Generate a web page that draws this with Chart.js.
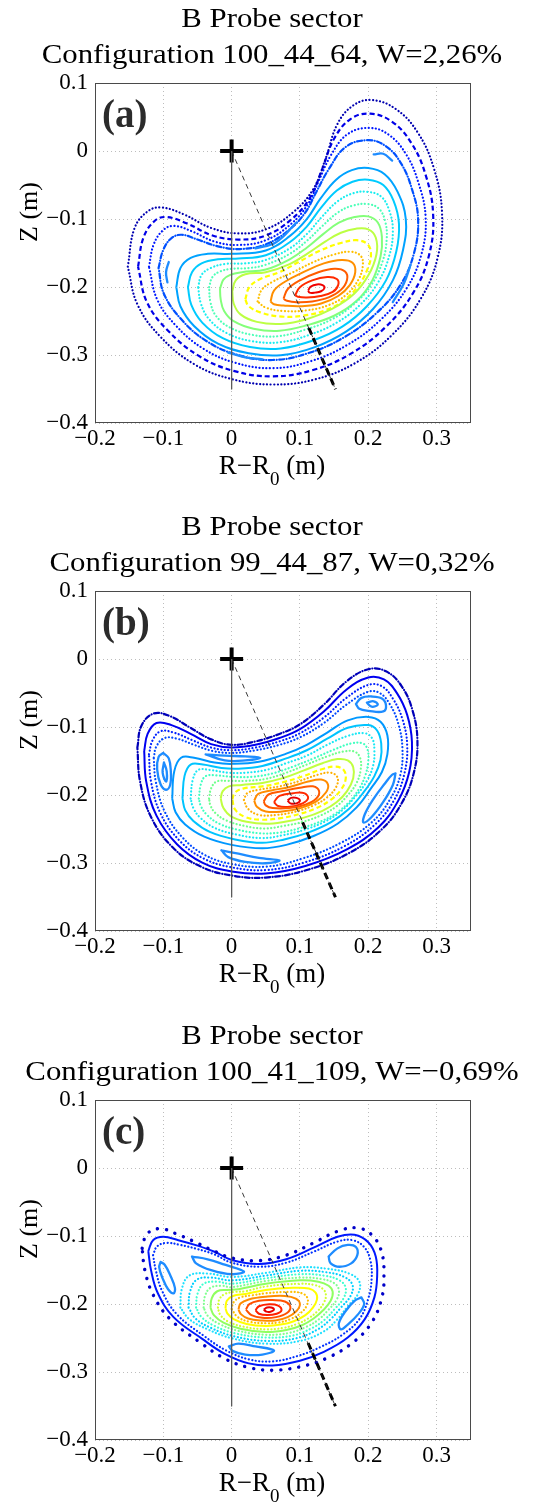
<!DOCTYPE html>
<html>
<head>
<meta charset="utf-8">
<script src="https://cdn.jsdelivr.net/npm/chart.js@4.4.1/dist/chart.umd.min.js"></script>
<style>
  html, body { margin: 0; padding: 0; background: #fff; overflow: hidden; }
  .panel { position: absolute; left: 0; width: 542px; height: 500px; }
</style>
</head>
<body>
<div class="panel" style="top:0px"><canvas id="ca" width="542" height="500"></canvas></div>
<div class="panel" style="top:508px"><canvas id="cb" width="542" height="500"></canvas></div>
<div class="panel" style="top:1017px"><canvas id="cc" width="542" height="500"></canvas></div>
<script>
// axis ticks
const xTicks = [-0.2, -0.1, 0, 0.1, 0.2, 0.3]
const xTickLabels = ['\u22120.2', '\u22120.1', '0', '0.1', '0.2', '0.3']
const yTicks = [-0.4, -0.3, -0.2, -0.1, 0, 0.1]
const yTickLabels = ['\u22120.4', '\u22120.3', '\u22120.2', '\u22120.1', '0', '0.1']

const titleTop = 'B Probe sector'
const configNames = [
  'Configuration 100_44_64, W=2,26%',
  'Configuration 99_44_87, W=0,32%',
  'Configuration 100_41_109, W=\u22120,69%'
]
const panelTags = ['(a)', '(b)', '(c)']

// probe line of sight (m)
const probeStem = [[0, 0], [0, -0.35]]
const probeChord = [[0, 0], [0.152, -0.35]]
const probeThickA = [[0.113, -0.26], [0.152, -0.35]]
const probeThickB = [[0.104, -0.24], [0.152, -0.35]]
const probeThickC = [[0.112, -0.257], [0.152, -0.35]]

// ---- (a) flux surfaces, outer to inner, [R-R0, Z] in m ----
const a1 = [[-0.152,-0.17],[-0.142,-0.113],[-0.122,-0.088],[-0.102,-0.083],[-0.07,-0.093],[-0.03,-0.113],[0.01,-0.121],[0.05,-0.115],[0.09,-0.09],[0.12,-0.055],[0.138,-0.01],[0.155,0.04],[0.178,0.067],[0.205,0.075],[0.24,0.062],[0.272,0.028],[0.296,-0.025],[0.308,-0.09],[0.302,-0.155],[0.278,-0.215],[0.235,-0.27],[0.18,-0.312],[0.12,-0.336],[0.06,-0.343],[0.0,-0.335],[-0.055,-0.313],[-0.105,-0.272],[-0.138,-0.225]]
const a2 = [[-0.137,-0.17],[-0.129,-0.127],[-0.112,-0.102],[-0.095,-0.097],[-0.066,-0.106],[-0.028,-0.124],[0.01,-0.13],[0.05,-0.124],[0.088,-0.1],[0.115,-0.068],[0.132,-0.028],[0.15,0.018],[0.174,0.047],[0.203,0.055],[0.235,0.043],[0.263,0.012],[0.284,-0.035],[0.295,-0.093],[0.289,-0.153],[0.266,-0.208],[0.226,-0.258],[0.174,-0.298],[0.118,-0.322],[0.06,-0.331],[0.003,-0.323],[-0.048,-0.301],[-0.093,-0.264],[-0.124,-0.222]]
const a3 = [[-0.121,-0.17],[-0.114,-0.137],[-0.1,-0.116],[-0.084,-0.11],[-0.058,-0.118],[-0.025,-0.133],[0.01,-0.138],[0.05,-0.131],[0.086,-0.108],[0.111,-0.079],[0.127,-0.045],[0.146,-0.005],[0.17,0.025],[0.202,0.034],[0.23,0.024],[0.255,-0.004],[0.273,-0.045],[0.284,-0.097],[0.278,-0.151],[0.256,-0.202],[0.218,-0.248],[0.169,-0.285],[0.115,-0.309],[0.06,-0.319],[0.005,-0.311],[-0.042,-0.29],[-0.082,-0.256],[-0.109,-0.218]]
const a4 = [[-0.107,-0.172],[-0.1,-0.145],[-0.088,-0.128],[-0.073,-0.123],[-0.05,-0.13],[-0.02,-0.14],[0.012,-0.144],[0.05,-0.137],[0.085,-0.115],[0.108,-0.09],[0.123,-0.062],[0.142,-0.027],[0.167,0.006],[0.2,0.016],[0.226,0.007],[0.248,-0.018],[0.264,-0.056],[0.273,-0.1],[0.267,-0.15],[0.247,-0.197],[0.211,-0.239],[0.164,-0.274],[0.112,-0.297],[0.06,-0.307],[0.007,-0.299],[-0.037,-0.279],[-0.073,-0.248],[-0.099,-0.21]]
const a5 = [[-0.081,-0.2],[-0.075,-0.172],[-0.06,-0.157],[-0.035,-0.151],[0.0,-0.151],[0.05,-0.146],[0.085,-0.125],[0.11,-0.1],[0.13,-0.07],[0.153,-0.042],[0.176,-0.028],[0.2,-0.025],[0.224,-0.034],[0.243,-0.06],[0.255,-0.1],[0.251,-0.145],[0.236,-0.19],[0.207,-0.232],[0.168,-0.265],[0.122,-0.288],[0.072,-0.3],[0.025,-0.297],[-0.02,-0.283],[-0.055,-0.257],[-0.075,-0.228]]
const a6 = [[-0.064,-0.2],[-0.058,-0.178],[-0.044,-0.165],[-0.02,-0.159],[0.01,-0.158],[0.05,-0.153],[0.085,-0.134],[0.11,-0.111],[0.131,-0.083],[0.154,-0.058],[0.177,-0.045],[0.2,-0.042],[0.222,-0.05],[0.237,-0.073],[0.245,-0.107],[0.241,-0.148],[0.226,-0.19],[0.198,-0.228],[0.162,-0.258],[0.12,-0.278],[0.072,-0.29],[0.027,-0.288],[-0.013,-0.275],[-0.043,-0.252],[-0.059,-0.226]]
const a7 = [[-0.049,-0.2],[-0.044,-0.182],[-0.031,-0.172],[-0.01,-0.166],[0.02,-0.165],[0.05,-0.16],[0.085,-0.143],[0.11,-0.122],[0.132,-0.097],[0.155,-0.074],[0.178,-0.062],[0.2,-0.06],[0.219,-0.067],[0.231,-0.088],[0.236,-0.117],[0.231,-0.153],[0.215,-0.192],[0.188,-0.226],[0.154,-0.252],[0.114,-0.27],[0.07,-0.281],[0.028,-0.279],[-0.008,-0.267],[-0.033,-0.247],[-0.045,-0.224]]
const a8 = [[-0.033,-0.2],[-0.028,-0.185],[-0.017,-0.177],[0.0,-0.173],[0.025,-0.172],[0.05,-0.167],[0.085,-0.151],[0.11,-0.132],[0.133,-0.11],[0.156,-0.09],[0.178,-0.08],[0.2,-0.078],[0.216,-0.085],[0.225,-0.104],[0.227,-0.13],[0.221,-0.162],[0.205,-0.196],[0.179,-0.225],[0.147,-0.247],[0.109,-0.262],[0.068,-0.272],[0.03,-0.27],[-0.003,-0.259],[-0.023,-0.242],[-0.031,-0.222]]
const a9 = [[-0.017,-0.202],[-0.012,-0.189],[-0.002,-0.182],[0.015,-0.178],[0.05,-0.174],[0.085,-0.159],[0.11,-0.142],[0.134,-0.122],[0.157,-0.105],[0.18,-0.097],[0.2,-0.096],[0.214,-0.105],[0.22,-0.126],[0.218,-0.155],[0.206,-0.19],[0.183,-0.22],[0.15,-0.242],[0.11,-0.256],[0.07,-0.264],[0.032,-0.261],[0.003,-0.25],[-0.011,-0.235],[-0.016,-0.218]]
const a10 = [[0.001,-0.206],[0.006,-0.19],[0.02,-0.181],[0.05,-0.178],[0.085,-0.166],[0.112,-0.15],[0.137,-0.133],[0.16,-0.12],[0.182,-0.114],[0.2,-0.115],[0.211,-0.127],[0.212,-0.152],[0.2,-0.183],[0.179,-0.21],[0.147,-0.232],[0.11,-0.247],[0.072,-0.254],[0.037,-0.251],[0.013,-0.24],[0.003,-0.224]]
const a11 = [[0.02,-0.218],[0.026,-0.2],[0.042,-0.188],[0.07,-0.178],[0.1,-0.162],[0.13,-0.146],[0.16,-0.135],[0.183,-0.131],[0.199,-0.137],[0.204,-0.152],[0.199,-0.173],[0.186,-0.197],[0.165,-0.219],[0.137,-0.234],[0.104,-0.242],[0.07,-0.243],[0.042,-0.237],[0.025,-0.228]]
const a12 = [[0.038,-0.221],[0.044,-0.204],[0.06,-0.192],[0.09,-0.178],[0.12,-0.163],[0.15,-0.152],[0.174,-0.148],[0.189,-0.154],[0.192,-0.169],[0.185,-0.19],[0.168,-0.211],[0.143,-0.226],[0.11,-0.234],[0.076,-0.235],[0.05,-0.23]]
const a13 = [[0.057,-0.221],[0.062,-0.205],[0.078,-0.192],[0.105,-0.178],[0.135,-0.165],[0.161,-0.16],[0.177,-0.164],[0.181,-0.178],[0.173,-0.197],[0.156,-0.213],[0.131,-0.224],[0.102,-0.228],[0.076,-0.227],[0.062,-0.225]]
const a14 = [[0.076,-0.217],[0.082,-0.203],[0.1,-0.19],[0.127,-0.178],[0.151,-0.173],[0.166,-0.177],[0.169,-0.189],[0.16,-0.204],[0.142,-0.215],[0.118,-0.221],[0.095,-0.222],[0.081,-0.22]]
const a15 = [[0.093,-0.212],[0.1,-0.2],[0.118,-0.19],[0.14,-0.185],[0.154,-0.188],[0.156,-0.197],[0.148,-0.207],[0.13,-0.213],[0.11,-0.215],[0.097,-0.214]]
const a16 = [[0.112,-0.205],[0.116,-0.199],[0.125,-0.196],[0.133,-0.197],[0.136,-0.201],[0.131,-0.206],[0.122,-0.208],[0.114,-0.208]]
// (a) island chain, open arcs
const aIslandLeft = [[-0.092,-0.163],[-0.096,-0.178],[-0.094,-0.193]]
const aIslandTop = [[0.208,-0.005],[0.222,-0.004],[0.235,-0.014]]
const aIslandRight = [[0.262,-0.167],[0.252,-0.195],[0.236,-0.222]]
const aIslandBottom = [[-0.005,-0.296],[0.02,-0.303],[0.045,-0.306]]
const aIslandMid = [[0.035,-0.143],[0.065,-0.134],[0.095,-0.105]]

// ---- (b) flux surfaces ----
const b1 = [[-0.138,-0.13],[-0.132,-0.098],[-0.114,-0.08],[-0.09,-0.084],[-0.062,-0.1],[-0.03,-0.118],[0.0,-0.126],[0.035,-0.121],[0.07,-0.11],[0.1,-0.096],[0.135,-0.067],[0.168,-0.033],[0.2,-0.015],[0.226,-0.018],[0.249,-0.04],[0.265,-0.076],[0.272,-0.12],[0.267,-0.166],[0.25,-0.21],[0.22,-0.25],[0.172,-0.285],[0.11,-0.31],[0.05,-0.321],[0.0,-0.318],[-0.045,-0.305],[-0.086,-0.277],[-0.118,-0.232],[-0.134,-0.18]]
const b2 = [[-0.128,-0.135],[-0.123,-0.11],[-0.11,-0.094],[-0.088,-0.097],[-0.06,-0.11],[-0.03,-0.125],[0.0,-0.13],[0.035,-0.126],[0.07,-0.116],[0.1,-0.103],[0.135,-0.077],[0.168,-0.045],[0.2,-0.027],[0.223,-0.03],[0.242,-0.05],[0.257,-0.082],[0.264,-0.122],[0.26,-0.166],[0.244,-0.208],[0.215,-0.247],[0.168,-0.28],[0.108,-0.304],[0.05,-0.315],[0.0,-0.312],[-0.043,-0.299],[-0.08,-0.272],[-0.11,-0.23],[-0.125,-0.18]]
const b3 = [[-0.121,-0.14],[-0.116,-0.12],[-0.104,-0.106],[-0.085,-0.108],[-0.058,-0.119],[-0.03,-0.13],[0.0,-0.134],[0.035,-0.13],[0.07,-0.121],[0.1,-0.109],[0.135,-0.086],[0.168,-0.057],[0.2,-0.038],[0.22,-0.04],[0.236,-0.058],[0.25,-0.088],[0.257,-0.126],[0.253,-0.168],[0.238,-0.207],[0.21,-0.243],[0.165,-0.275],[0.106,-0.299],[0.05,-0.31],[0.0,-0.306],[-0.041,-0.293],[-0.076,-0.267],[-0.104,-0.227],[-0.118,-0.18]]
const b4 = [[-0.114,-0.145],[-0.11,-0.128],[-0.098,-0.116],[-0.08,-0.117],[-0.055,-0.126],[-0.028,-0.135],[0.0,-0.138],[0.035,-0.134],[0.07,-0.126],[0.1,-0.115],[0.135,-0.094],[0.168,-0.067],[0.2,-0.048],[0.217,-0.05],[0.232,-0.067],[0.244,-0.095],[0.25,-0.13],[0.247,-0.17],[0.232,-0.206],[0.205,-0.24],[0.16,-0.27],[0.104,-0.293],[0.05,-0.305],[0.0,-0.301],[-0.039,-0.288],[-0.072,-0.262],[-0.098,-0.224],[-0.111,-0.18]]
const b5 = [[-0.087,-0.205],[-0.084,-0.165],[-0.074,-0.145],[-0.055,-0.145],[-0.025,-0.152],[0.0,-0.154],[0.04,-0.151],[0.08,-0.139],[0.11,-0.126],[0.14,-0.108],[0.17,-0.09],[0.2,-0.085],[0.218,-0.092],[0.228,-0.112],[0.228,-0.14],[0.22,-0.166],[0.204,-0.19],[0.183,-0.218],[0.155,-0.242],[0.12,-0.26],[0.08,-0.273],[0.045,-0.278],[0.0,-0.273],[-0.04,-0.261],[-0.068,-0.243],[-0.082,-0.225]]
const b6 = [[-0.072,-0.205],[-0.069,-0.172],[-0.06,-0.155],[-0.042,-0.155],[-0.015,-0.16],[0.01,-0.161],[0.045,-0.157],[0.08,-0.146],[0.11,-0.134],[0.14,-0.117],[0.17,-0.101],[0.2,-0.097],[0.213,-0.105],[0.219,-0.124],[0.218,-0.148],[0.209,-0.172],[0.193,-0.196],[0.172,-0.22],[0.145,-0.24],[0.112,-0.255],[0.077,-0.265],[0.045,-0.27],[0.005,-0.265],[-0.032,-0.254],[-0.056,-0.238],[-0.068,-0.222]]
const b7 = [[-0.06,-0.205],[-0.057,-0.178],[-0.049,-0.163],[-0.032,-0.163],[-0.005,-0.167],[0.02,-0.167],[0.05,-0.163],[0.08,-0.153],[0.11,-0.142],[0.14,-0.126],[0.17,-0.113],[0.195,-0.109],[0.206,-0.117],[0.209,-0.135],[0.207,-0.157],[0.198,-0.179],[0.182,-0.201],[0.162,-0.222],[0.136,-0.239],[0.106,-0.251],[0.074,-0.259],[0.045,-0.263],[0.008,-0.258],[-0.025,-0.248],[-0.046,-0.233],[-0.056,-0.219]]
const b8 = [[-0.048,-0.205],[-0.045,-0.184],[-0.038,-0.172],[-0.022,-0.171],[0.0,-0.173],[0.03,-0.173],[0.06,-0.168],[0.09,-0.158],[0.12,-0.146],[0.15,-0.133],[0.175,-0.124],[0.192,-0.124],[0.199,-0.133],[0.2,-0.15],[0.196,-0.17],[0.187,-0.19],[0.172,-0.21],[0.152,-0.227],[0.127,-0.24],[0.098,-0.249],[0.07,-0.255],[0.042,-0.256],[0.01,-0.251],[-0.018,-0.242],[-0.036,-0.229],[-0.045,-0.216]]
const b9 = [[-0.033,-0.205],[-0.03,-0.19],[-0.022,-0.18],[-0.005,-0.179],[0.02,-0.179],[0.05,-0.176],[0.08,-0.167],[0.11,-0.155],[0.14,-0.143],[0.163,-0.136],[0.18,-0.136],[0.188,-0.145],[0.189,-0.162],[0.183,-0.182],[0.17,-0.2],[0.154,-0.216],[0.132,-0.229],[0.105,-0.239],[0.077,-0.245],[0.048,-0.249],[0.018,-0.245],[-0.008,-0.237],[-0.024,-0.226],[-0.031,-0.215]]
const b10 = [[-0.016,-0.205],[-0.013,-0.194],[-0.004,-0.187],[0.015,-0.185],[0.045,-0.182],[0.075,-0.175],[0.105,-0.164],[0.133,-0.153],[0.155,-0.147],[0.17,-0.149],[0.178,-0.159],[0.178,-0.175],[0.169,-0.194],[0.154,-0.21],[0.133,-0.223],[0.106,-0.233],[0.078,-0.239],[0.05,-0.242],[0.022,-0.239],[-0.001,-0.231],[-0.012,-0.219]]
const b11 = [[0.001,-0.206],[0.005,-0.196],[0.018,-0.19],[0.045,-0.187],[0.075,-0.181],[0.105,-0.172],[0.132,-0.162],[0.152,-0.158],[0.164,-0.163],[0.167,-0.176],[0.16,-0.192],[0.145,-0.207],[0.124,-0.219],[0.098,-0.228],[0.07,-0.234],[0.043,-0.236],[0.02,-0.232],[0.005,-0.221]]
const b12 = [[0.018,-0.207],[0.023,-0.197],[0.04,-0.192],[0.07,-0.187],[0.1,-0.179],[0.126,-0.17],[0.145,-0.167],[0.155,-0.174],[0.153,-0.188],[0.14,-0.203],[0.12,-0.215],[0.094,-0.224],[0.066,-0.229],[0.04,-0.229],[0.024,-0.22]]
const b13 = [[0.033,-0.208],[0.039,-0.198],[0.058,-0.193],[0.085,-0.188],[0.112,-0.18],[0.131,-0.177],[0.141,-0.184],[0.138,-0.196],[0.124,-0.209],[0.101,-0.219],[0.074,-0.224],[0.05,-0.224],[0.037,-0.217]]
const b14 = [[0.047,-0.209],[0.054,-0.199],[0.075,-0.194],[0.1,-0.189],[0.119,-0.187],[0.128,-0.194],[0.124,-0.205],[0.108,-0.214],[0.084,-0.219],[0.06,-0.219],[0.05,-0.215]]
const b15 = [[0.062,-0.21],[0.07,-0.201],[0.09,-0.197],[0.106,-0.197],[0.112,-0.204],[0.104,-0.212],[0.085,-0.217],[0.068,-0.216]]
const b16 = [[0.082,-0.208],[0.087,-0.204],[0.095,-0.204],[0.1,-0.208],[0.095,-0.212],[0.086,-0.212]]
// (b) islands, closed loops
const bIslandLeft = [[-0.1,-0.138],[-0.092,-0.146],[-0.089,-0.165],[-0.09,-0.185],[-0.096,-0.192],[-0.104,-0.184],[-0.109,-0.162],[-0.107,-0.144]]
const bIslandLeftCore = [[-0.099,-0.152],[-0.095,-0.165],[-0.096,-0.18],[-0.101,-0.167]]
const bIslandTop = [[-0.038,-0.14],[-0.01,-0.142],[0.02,-0.143],[0.042,-0.145],[0.02,-0.149],[-0.01,-0.149]]
const bIslandTopRight = [[0.182,-0.066],[0.19,-0.057],[0.205,-0.055],[0.22,-0.058],[0.226,-0.068],[0.222,-0.077],[0.2,-0.076],[0.187,-0.073]]
const bIslandTopRightCore = [[0.198,-0.064],[0.208,-0.062],[0.214,-0.067],[0.205,-0.07]]
const bIslandRight = [[0.24,-0.168],[0.236,-0.185],[0.222,-0.21],[0.205,-0.232],[0.193,-0.24],[0.195,-0.228],[0.208,-0.205],[0.225,-0.182],[0.235,-0.17]]
const bIslandBottom = [[-0.015,-0.281],[0.01,-0.286],[0.04,-0.292],[0.07,-0.296],[0.05,-0.3],[0.02,-0.298],[-0.005,-0.291]]

// ---- (c) flux surfaces ----
const c1 = [[-0.131,-0.118],[-0.124,-0.097],[-0.105,-0.089],[-0.08,-0.097],[-0.055,-0.108],[-0.03,-0.12],[0.0,-0.132],[0.04,-0.136],[0.08,-0.128],[0.12,-0.11],[0.155,-0.093],[0.185,-0.088],[0.207,-0.1],[0.22,-0.125],[0.223,-0.158],[0.22,-0.19],[0.205,-0.227],[0.178,-0.256],[0.14,-0.279],[0.1,-0.292],[0.06,-0.297],[0.025,-0.293],[-0.01,-0.28],[-0.045,-0.257],[-0.09,-0.222],[-0.115,-0.186],[-0.127,-0.15]]
const c2 = [[-0.122,-0.122],[-0.115,-0.106],[-0.1,-0.101],[-0.078,-0.106],[-0.05,-0.114],[-0.025,-0.123],[0.0,-0.135],[0.04,-0.141],[0.08,-0.134],[0.12,-0.117],[0.155,-0.101],[0.18,-0.098],[0.2,-0.109],[0.211,-0.13],[0.213,-0.16],[0.209,-0.19],[0.195,-0.222],[0.17,-0.249],[0.135,-0.27],[0.1,-0.283],[0.06,-0.29],[0.025,-0.287],[-0.01,-0.273],[-0.043,-0.251],[-0.085,-0.219],[-0.108,-0.184],[-0.118,-0.15]]
const c3 = [[-0.115,-0.128],[-0.109,-0.115],[-0.095,-0.11],[-0.075,-0.113],[-0.05,-0.119],[-0.025,-0.127],[0.0,-0.139],[0.04,-0.145],[0.08,-0.139],[0.12,-0.123],[0.155,-0.108],[0.177,-0.106],[0.194,-0.116],[0.203,-0.135],[0.205,-0.162],[0.2,-0.192],[0.187,-0.222],[0.162,-0.245],[0.13,-0.263],[0.097,-0.276],[0.06,-0.284],[0.025,-0.281],[-0.008,-0.268],[-0.04,-0.247],[-0.08,-0.215],[-0.102,-0.18],[-0.111,-0.15]]
const c5 = [[-0.075,-0.205],[-0.073,-0.178],[-0.062,-0.158],[-0.035,-0.155],[0.0,-0.16],[0.05,-0.154],[0.1,-0.146],[0.14,-0.148],[0.172,-0.155],[0.187,-0.167],[0.185,-0.185],[0.17,-0.203],[0.155,-0.222],[0.135,-0.24],[0.1,-0.254],[0.05,-0.258],[0.0,-0.25],[-0.035,-0.237],[-0.062,-0.222]]
const c6 = [[-0.063,-0.205],[-0.061,-0.182],[-0.051,-0.164],[-0.03,-0.161],[0.0,-0.165],[0.05,-0.158],[0.1,-0.151],[0.138,-0.153],[0.165,-0.16],[0.177,-0.172],[0.174,-0.188],[0.16,-0.205],[0.145,-0.222],[0.126,-0.237],[0.095,-0.25],[0.05,-0.254],[0.003,-0.247],[-0.03,-0.235],[-0.053,-0.221]]
const c7 = [[-0.052,-0.205],[-0.05,-0.185],[-0.041,-0.17],[-0.022,-0.167],[0.0,-0.17],[0.05,-0.162],[0.1,-0.156],[0.135,-0.158],[0.158,-0.165],[0.167,-0.176],[0.164,-0.191],[0.151,-0.207],[0.136,-0.223],[0.118,-0.235],[0.09,-0.246],[0.05,-0.249],[0.006,-0.243],[-0.025,-0.232],[-0.044,-0.219]]
const c8 = [[-0.041,-0.205],[-0.039,-0.188],[-0.031,-0.176],[-0.015,-0.173],[0.0,-0.175],[0.05,-0.166],[0.1,-0.161],[0.131,-0.163],[0.15,-0.169],[0.157,-0.179],[0.154,-0.193],[0.142,-0.208],[0.128,-0.222],[0.11,-0.233],[0.085,-0.242],[0.05,-0.245],[0.009,-0.239],[-0.018,-0.229],[-0.035,-0.217]]
const c9 = [[-0.031,-0.205],[-0.029,-0.191],[-0.021,-0.181],[-0.007,-0.179],[0.01,-0.178],[0.05,-0.17],[0.1,-0.165],[0.127,-0.167],[0.142,-0.173],[0.148,-0.182],[0.145,-0.195],[0.134,-0.209],[0.12,-0.221],[0.103,-0.231],[0.08,-0.238],[0.05,-0.241],[0.013,-0.236],[-0.012,-0.227],[-0.026,-0.216]]
const c10 = [[-0.02,-0.205],[-0.018,-0.193],[-0.01,-0.185],[0.005,-0.182],[0.02,-0.181],[0.05,-0.174],[0.1,-0.17],[0.122,-0.172],[0.134,-0.178],[0.138,-0.186],[0.135,-0.198],[0.125,-0.211],[0.112,-0.221],[0.096,-0.229],[0.075,-0.235],[0.05,-0.237],[0.017,-0.233],[-0.006,-0.225],[-0.017,-0.215]]
const c11 = [[-0.009,-0.206],[-0.007,-0.195],[0.002,-0.188],[0.02,-0.185],[0.05,-0.179],[0.09,-0.176],[0.113,-0.177],[0.123,-0.183],[0.125,-0.193],[0.119,-0.205],[0.108,-0.216],[0.091,-0.225],[0.072,-0.23],[0.05,-0.232],[0.022,-0.229],[0.003,-0.222],[-0.006,-0.214]]
const c12 = [[0.0,-0.207],[0.003,-0.197],[0.013,-0.19],[0.03,-0.187],[0.05,-0.184],[0.085,-0.182],[0.103,-0.184],[0.111,-0.191],[0.11,-0.202],[0.101,-0.213],[0.086,-0.222],[0.068,-0.227],[0.05,-0.228],[0.027,-0.226],[0.009,-0.219]]
const c13 = [[0.01,-0.208],[0.013,-0.199],[0.025,-0.193],[0.05,-0.189],[0.078,-0.188],[0.094,-0.192],[0.1,-0.2],[0.095,-0.21],[0.082,-0.219],[0.064,-0.224],[0.044,-0.224],[0.024,-0.221],[0.014,-0.215]]
const c14 = [[0.021,-0.208],[0.026,-0.2],[0.04,-0.195],[0.06,-0.194],[0.078,-0.196],[0.086,-0.204],[0.081,-0.213],[0.065,-0.219],[0.045,-0.22],[0.029,-0.216]]
const c15 = [[0.035,-0.209],[0.04,-0.203],[0.055,-0.2],[0.068,-0.202],[0.073,-0.209],[0.066,-0.214],[0.052,-0.216],[0.04,-0.214]]
const c16 = [[0.047,-0.208],[0.052,-0.205],[0.058,-0.205],[0.062,-0.208],[0.057,-0.211],[0.051,-0.211]]
// (c) islands, closed loops
const cIslandLeft = [[-0.104,-0.138],[-0.098,-0.142],[-0.09,-0.157],[-0.083,-0.176],[-0.085,-0.184],[-0.093,-0.178],[-0.101,-0.162],[-0.106,-0.146]]
const cIslandTop = [[-0.058,-0.13],[-0.035,-0.134],[-0.01,-0.142],[0.018,-0.152],[0.0,-0.156],[-0.03,-0.15],[-0.052,-0.14]]
const cIslandTopRight = [[0.142,-0.13],[0.155,-0.118],[0.17,-0.113],[0.182,-0.116],[0.184,-0.128],[0.175,-0.14],[0.158,-0.145],[0.145,-0.14]]
const cIslandRight = [[0.19,-0.19],[0.194,-0.2],[0.185,-0.215],[0.17,-0.23],[0.16,-0.237],[0.157,-0.228],[0.167,-0.21],[0.18,-0.195]]
const cIslandBottom = [[-0.004,-0.262],[0.01,-0.258],[0.035,-0.262],[0.062,-0.268],[0.045,-0.274],[0.02,-0.274],[0.002,-0.269]]

// ---------- drawing ----------
const serif = '"Liberation Serif", "Times New Roman", serif'

const pts = arr => arr.map(([x, y]) => ({x, y}))
const loop = arr => pts(arr.concat([arr[0]]))

const dashes = {
  solid: [],
  dot: [0.1, 3.4],
  dash: [5, 3],
  dashdot: [5, 2.5, 0.1, 2.5],
  sparse: [0.1, 9]
}

const surface = (data, color, kind) => ({
  data: loop(data),
  showLine: true,
  borderColor: color,
  borderWidth: kind === 'sparse' ? 3.4 : (kind === 'solid' ? 2 : 2.2),
  borderDash: dashes[kind],
  borderCapStyle: kind === 'dot' || kind === 'sparse' || kind === 'dashdot' ? 'round' : 'butt',
  borderJoinStyle: 'round',
  pointRadius: 0,
  tension: 0.4,
  fill: false,
  order: 2
})

const island = (data, closed) => ({
  data: closed ? loop(data) : pts(data),
  showLine: true,
  borderColor: '#1e8cff',
  borderWidth: 2.3,
  borderCapStyle: 'round',
  pointRadius: 0,
  tension: 0.4,
  fill: false,
  order: 1
})

const guides = thick => [
  { data: pts(probeStem), showLine: true, borderColor: '#5a5a5a', borderWidth: 1, pointRadius: 0, order: 0 },
  { data: pts(probeChord), showLine: true, borderColor: '#222', borderWidth: 0.9, borderDash: [5, 4], pointRadius: 0, order: 0 },
  { data: pts(thick), showLine: true, borderColor: '#000', borderWidth: 3, borderDash: [7, 4], pointRadius: 0, order: 0 },
  { data: [{x: 0, y: 0}], showLine: false, pointStyle: 'cross', pointRadius: 11.5, borderWidth: 4, borderColor: '#000', order: 0 }
]

const decor = {
  id: 'decor',
  afterDraw(chart, args, o) {
    const {ctx, chartArea: a} = chart
    ctx.save()
    ctx.strokeStyle = '#4a4a4a'
    ctx.lineWidth = 1
    ctx.strokeRect(Math.round(a.left) + 0.5, Math.round(a.top) + 0.5, Math.round(a.width) - 1, Math.round(a.height) - 1)

    // two-line title, slightly wide serif like the original
    ctx.fillStyle = '#000'
    ctx.textAlign = 'center'
    ctx.textBaseline = 'alphabetic'
    ctx.font = '28px ' + serif
    ctx.save()
    ctx.translate(272, 0)
    ctx.scale(1.1, 1)
    ctx.fillText(o.title[0], 0, 27)
    ctx.fillText(o.title[1], 0, 63)
    ctx.restore()

    ctx.font = 'bold 39px ' + serif
    ctx.fillStyle = '#2b2b2b'
    ctx.textAlign = 'left'
    ctx.fillText(o.tag, 102, 127)

    // x axis title R-R0 (m) with subscript
    ctx.fillStyle = '#000'
    ctx.font = '27px ' + serif
    const p1 = 'R\u2212R', p3 = ' (m)'
    const w1 = ctx.measureText(p1).width
    const w3 = ctx.measureText(p3).width
    ctx.font = '19px ' + serif
    const w2 = ctx.measureText('0').width
    const x0 = 272 - (w1 + w2 + w3) / 2
    ctx.font = '27px ' + serif
    ctx.fillText(p1, x0, 474)
    ctx.font = '19px ' + serif
    ctx.fillText('0', x0 + w1, 485)
    ctx.font = '27px ' + serif
    ctx.fillText(p3, x0 + w1 + w2, 474)

    // y axis title
    ctx.translate(30, 212)
    ctx.rotate(-Math.PI / 2)
    ctx.textAlign = 'center'
    ctx.textBaseline = 'middle'
    ctx.font = '26px ' + serif
    ctx.fillText('Z (m)', 0, 0)
    ctx.restore()
  }
}

const makePanel = (id, p) => {
  const datasets = []
  guides(p.thick).forEach(d => datasets.push(d))
  p.islandArcs.forEach(d => datasets.push(island(d, false)))
  p.islandLoops.forEach(d => datasets.push(island(d, true)))
  p.surfaces.forEach((s, i) => datasets.push(surface(s, p.styles[i][0], p.styles[i][1])))

  new Chart(document.getElementById(id), {
    type: 'scatter',
    data: { datasets },
    plugins: [decor],
    options: {
      responsive: false,
      animation: false,
      devicePixelRatio: 1,
      layout: { padding: { top: 83, right: 71.3, left: 0, bottom: 0 } },
      plugins: {
        legend: { display: false },
        tooltip: { enabled: false },
        decor: { title: p.title, tag: p.tag }
      },
      scales: {
        x: {
          type: 'linear', min: -0.2, max: 0.35,
          afterBuildTicks: s => { s.ticks = xTicks.map(v => ({value: v})) },
          afterFit: s => { s.height = 500 - 423.3 },
          grid: { color: '#bdbdbd', lineWidth: 1, drawTicks: false },
          border: { display: false, dash: [1, 3] },
          ticks: {
            padding: 2, color: '#000', font: { family: serif, size: 23 },
            maxRotation: 0, autoSkip: false,
            callback: (v, i) => xTickLabels[i]
          }
        },
        y: {
          type: 'linear', min: -0.4, max: 0.1,
          afterBuildTicks: s => { s.ticks = yTicks.map(v => ({value: v})) },
          afterFit: s => { s.width = 95 },
          grid: { color: '#bdbdbd', lineWidth: 1, drawTicks: false },
          border: { display: false, dash: [1, 3] },
          ticks: {
            padding: 7, color: '#000', font: { family: serif, size: 23 },
            autoSkip: false,
            callback: (v, i) => yTickLabels[i]
          }
        }
      }
    }
  })
}

Chart.defaults.font.family = serif

makePanel('ca', {
  title: [titleTop, configNames[0]], tag: panelTags[0], thick: probeThickA,
  surfaces: [a1, a2, a3, a4, a5, a6, a7, a8, a9, a10, a11, a12, a13, a14, a15, a16],
  styles: [['#0000b0','dot'],['#0000e8','dash'],['#0018ff','dot'],['#0050ff','dashdot'],['#00a2ff','solid'],['#00cbff','solid'],['#1aeef0','dot'],['#4dffb8','dot'],['#84ff7a','solid'],['#bcff43','solid'],['#ffff00','dash'],['#ffc000','dot'],['#ff8f00','solid'],['#ff5c00','solid'],['#ff2a00','solid'],['#f00000','solid']],
  islandArcs: [aIslandLeft, aIslandTop, aIslandRight, aIslandBottom, aIslandMid],
  islandLoops: []
})

makePanel('cb', {
  title: [titleTop, configNames[1]], tag: panelTags[1], thick: probeThickB,
  surfaces: [b1, b2, b3, b4, b5, b6, b7, b8, b9, b10, b11, b12, b13, b14, b15, b16],
  styles: [['#0000b8','dashdot'],['#0000f0','solid'],['#0020ff','dot'],['#0048ff','dot'],['#0098ff','solid'],['#00c4ff','solid'],['#1ae8f5','dot'],['#40ffc0','dot'],['#70ff8c','dot'],['#c0ff40','solid'],['#ffff00','dash'],['#ffb000','dot'],['#ff8c00','solid'],['#ff5a00','solid'],['#ff2a00','solid'],['#e80000','solid']],
  islandArcs: [],
  islandLoops: [bIslandLeft, bIslandLeftCore, bIslandTop, bIslandTopRight, bIslandTopRightCore, bIslandRight, bIslandBottom]
})

makePanel('cc', {
  title: [titleTop, configNames[2]], tag: panelTags[2], thick: probeThickC,
  surfaces: [c1, c2, c3, c5, c6, c7, c8, c9, c10, c11, c12, c13, c14, c15, c16],
  styles: [['#0000c8','sparse'],['#0018ff','solid'],['#0030ff','dot'],['#20e0ff','dot'],['#00d0ff','dot'],['#40ffd0','dot'],['#80ff90','dot'],['#90ff60','solid'],['#d0ff30','dot'],['#ffff00','solid'],['#ffc000','dot'],['#ff8c00','solid'],['#ff5000','solid'],['#ff2000','solid'],['#e80000','solid']],
  islandArcs: [],
  islandLoops: [cIslandLeft, cIslandTop, cIslandTopRight, cIslandRight, cIslandBottom]
})
</script>
</body>
</html>
